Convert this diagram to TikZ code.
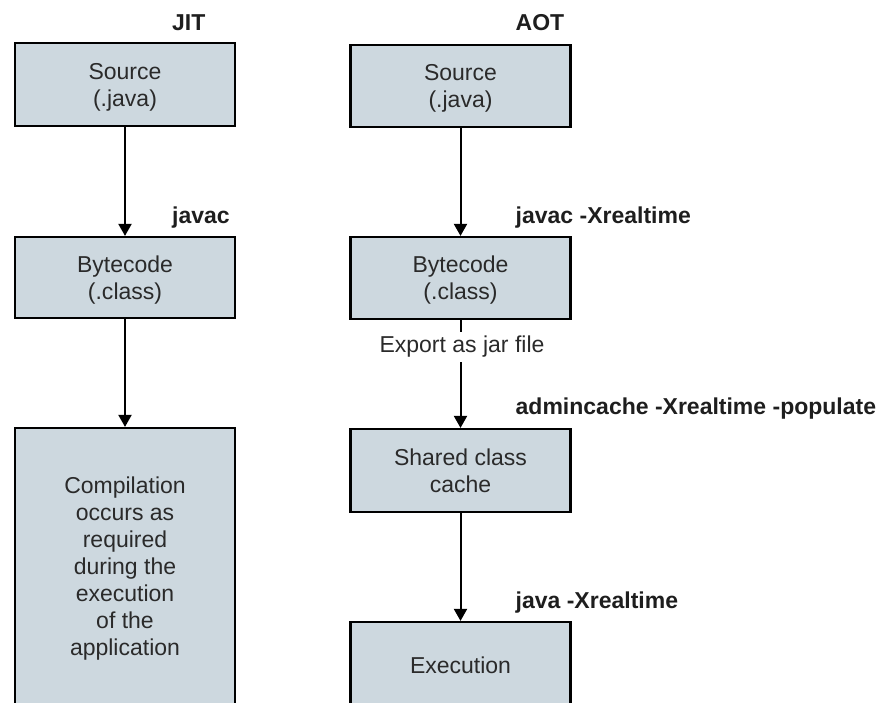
\documentclass[tikz,border=0pt]{standalone}
\usepackage{fontspec}
\setmainfont{Liberation Sans}
\usetikzlibrary{arrows.meta}
\definecolor{boxfill}{HTML}{CDD8DF}
\definecolor{ink}{HTML}{1E1E1E}
\definecolor{boxtext}{HTML}{2A2A2A}
\begin{document}
\begin{tikzpicture}[x=1pt,y=-1pt,
  stage/.style={draw=black, line width=2.2pt, fill=boxfill, minimum width=220pt,
    inner sep=0pt, align=center, text=boxtext, text depth=0pt,
    font=\fontsize{23}{27}\selectfont},
  flow/.style={line width=2pt, -{Triangle[length=12pt,width=13pt]}},
  plain/.style={line width=2pt},
  cmd/.style={anchor=base west, inner sep=0pt, text=ink,
    font=\fontsize{23}{27}\selectfont\bfseries},
  note/.style={inner xsep=2pt, inner ysep=4.2pt, text=boxtext,
    font=\fontsize{23}{27}\selectfont},
]
\useasboundingbox (0,0) rectangle (877,703);
\clip (0,0) rectangle (877,703);

% JIT column
\node[cmd] (jit) at (172,31) {JIT};
\node[stage, minimum height=83pt] (srcL) at (125,84.5) {Source\\(.java)};
\node[cmd] (javacL) at (172,224) {javac};
\node[stage, minimum height=81pt] (byteL) at (125,277.5) {Bytecode\\(.class)};
\node[stage, minimum height=276pt] (compL) at (125,566)
  {Compilation\\occurs as\\required\\during the\\execution\\of the\\application};

\draw[flow] (srcL) -- (byteL);
\draw[flow] (byteL) -- (compL);

% AOT column
\node[cmd] (aot) at (515.5,31) {AOT};
\node[stage, minimum height=82pt] (srcR) at (460.5,86) {Source\\(.java)};
\node[cmd] (javacR) at (515.5,224) {javac -Xrealtime};
\node[stage, minimum height=82pt] (byteR) at (460.5,278) {Bytecode\\(.class)};
\node[note] (jar) at (462,347) {Export as jar file};
\node[cmd] (admin) at (515.5,414) {admincache -Xrealtime -populate};
\node[stage, minimum height=83pt] (cache) at (460.5,470.5) {Shared class\\cache};
\node[cmd] (javaR) at (515.5,608) {java -Xrealtime};
\node[stage, minimum height=86pt] (exec) at (460.5,665) {Execution};

\draw[flow] (srcR) -- (byteR);
\draw[plain] (byteR.south) -- (byteR.south |- jar.north);
\draw[flow] (byteR.south |- jar.south) -- (cache.north);
\draw[flow] (cache) -- (exec);
\end{tikzpicture}
\end{document}
